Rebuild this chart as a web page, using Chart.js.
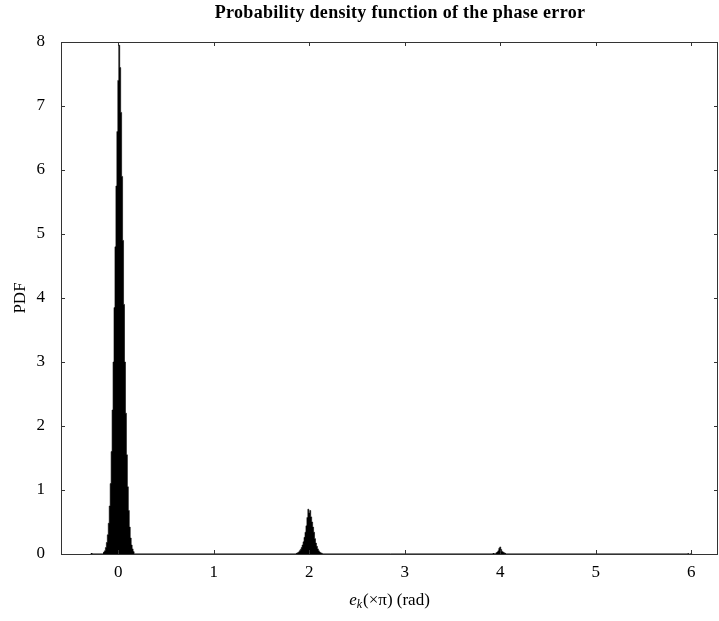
<!DOCTYPE html>
<html><head><meta charset="utf-8">
<script src="https://cdn.jsdelivr.net/npm/chart.js@4/dist/chart.umd.min.js"></script>
<style>html,body{margin:0;padding:0;background:#fff}</style>
</head><body>
<canvas id="c" width="719" height="621"></canvas>
<script>
const chartTitle = "Probability density function of the phase error";
const yAxisTitle = "PDF";
const xTickValues = [0, 1, 2, 3, 4, 5, 6];
const yTickValues = [0, 1, 2, 3, 4, 5, 6, 7, 8];

// histogram bins (bin centre in units of pi) and PDF heights
const peak0X = [-0.16,-0.15,-0.14,-0.13,-0.12,-0.11,-0.10,-0.09,-0.08,-0.07,-0.06,-0.05,-0.04,-0.03,-0.02,-0.01,0.00,0.01,0.02,0.03,0.04,0.05,0.06,0.07,0.08,0.09,0.10,0.11,0.12,0.13,0.14,0.15,0.16,0.17];
const peak0Y = [0.02,0.03,0.05,0.10,0.18,0.30,0.48,0.75,1.10,1.60,2.25,3.00,3.85,4.80,5.75,6.60,7.40,7.95,7.60,6.90,5.90,4.90,3.90,3.00,2.20,1.55,1.05,0.68,0.42,0.25,0.14,0.08,0.04,0.02];
const peak2X = [1.86,1.87,1.88,1.89,1.90,1.91,1.92,1.93,1.94,1.95,1.96,1.97,1.98,1.99,2.00,2.01,2.02,2.03,2.04,2.05,2.06,2.07,2.08,2.09,2.10,2.11,2.12,2.13,2.14];
const peak2Y = [0.01,0.01,0.02,0.03,0.05,0.07,0.10,0.14,0.19,0.26,0.34,0.44,0.57,0.70,0.64,0.68,0.58,0.50,0.42,0.34,0.24,0.17,0.12,0.08,0.05,0.03,0.02,0.01,0.01];
const peak4X = [3.95,3.96,3.97,3.98,3.99,4.00,4.01,4.02,4.03,4.04,4.05,4.06];
const peak4Y = [0.01,0.02,0.03,0.05,0.09,0.11,0.07,0.04,0.03,0.02,0.01,0.01];
// isolated small bins
const strayX = [-0.28, 3.93, 5.97, 6.00];
const strayY = [0.01, 0.01, 0.005, 0.01];
// near-zero tail of the histogram that shows as a thin line along the axis
const tailX = [-0.28, 5.98];
const tailY = [0, 0];

const toPts = (xs, ys) => xs.map((x, i) => ({x, y: ys[i]}));

const SERIF = "'Liberation Serif', 'DejaVu Serif', serif";
const FRAME = '#333';

const framePlugin = {
  id: 'frame',
  afterDatasetsDraw(chart) {
    const {ctx, chartArea: a, scales} = chart;
    ctx.save();
    ctx.strokeStyle = FRAME;
    ctx.lineWidth = 1;
    ctx.strokeRect(a.left + 0.5, a.top + 0.5, a.right - a.left - 1, a.bottom - a.top);
    const L = 4;
    ctx.beginPath();
    xTickValues.forEach(v => {
      const px = Math.round(scales.x.getPixelForValue(v)) + 0.5;
      ctx.moveTo(px, a.bottom); ctx.lineTo(px, a.bottom - L);
      ctx.moveTo(px, a.top); ctx.lineTo(px, a.top + L);
    });
    yTickValues.forEach(v => {
      const py = Math.round(scales.y.getPixelForValue(v)) + 0.5;
      ctx.moveTo(a.left, py); ctx.lineTo(a.left + L, py);
      ctx.moveTo(a.right, py); ctx.lineTo(a.right - L, py);
    });
    ctx.stroke();
    ctx.restore();
  },
  afterDraw(chart) {
    const {ctx, chartArea: a} = chart;
    ctx.save();
    ctx.fillStyle = '#000';
    ctx.font = "bold 18px " + SERIF;
    ctx.textAlign = 'center';
    ctx.textBaseline = 'middle';
    try { ctx.letterSpacing = '0.3px'; } catch (e) {}
    ctx.fillText(chartTitle, 400, 13);
    try { ctx.letterSpacing = '0px'; } catch (e) {}
    ctx.font = "17px " + SERIF;
    ctx.translate(21, (a.top + a.bottom) / 2);
    ctx.rotate(-Math.PI / 2);
    ctx.fillText(yAxisTitle, 0, 0);
    ctx.setTransform(1, 0, 0, 1, 0, 0);
    const fMain = "17px " + SERIF, fIt = "italic 17px " + SERIF, fSub = "italic 12px " + SERIF;
    const rest = "(\u00d7\u03c0) (rad)";
    ctx.textAlign = 'left';
    ctx.textBaseline = 'alphabetic';
    ctx.font = fIt; const we = ctx.measureText('e').width;
    ctx.font = fSub; const wk = ctx.measureText('k').width;
    ctx.font = fMain; const wr = ctx.measureText(rest).width;
    let x = (a.left + a.right) / 2 - (we + wk + 1 + wr) / 2;
    const base = 605;
    ctx.font = fIt; ctx.fillText('e', x, base); x += we;
    ctx.font = fSub; ctx.fillText('k', x, base + 3); x += wk + 1;
    ctx.font = fMain; ctx.fillText(rest, x, base);
    ctx.restore();
  }
};

const histLine = pts => ({
  type: 'line', data: pts, stepped: 'middle', fill: 'origin',
  backgroundColor: '#000', borderColor: '#000', borderWidth: 0.6,
  pointRadius: 0, order: 2
});

new Chart(document.getElementById('c'), {
  data: {
    datasets: [
      histLine(toPts(peak0X, peak0Y)),
      histLine(toPts(peak2X, peak2Y)),
      histLine(toPts(peak4X, peak4Y)),
      {type: 'bar', data: toPts(strayX, strayY), backgroundColor: '#000', borderWidth: 0,
       barThickness: 1, grouped: false, order: 2},
      {type: 'line', data: toPts(tailX, tailY), borderColor: '#000', borderWidth: 1,
       pointRadius: 0, clip: 3, order: 1}
    ]
  },
  options: {
    responsive: false,
    animation: false,
    devicePixelRatio: 1,
    layout: {padding: {top: 42, right: 1, left: 0, bottom: 0}},
    plugins: {legend: {display: false}, tooltip: {enabled: false}, title: {display: false}},
    scales: {
      x: {
        type: 'linear', min: -0.6, max: 6.28, offset: false,
        grid: {display: false}, border: {display: false},
        afterBuildTicks: s => { s.ticks = xTickValues.map(v => ({value: v})); },
        afterFit: s => { s.height = 67; },
        ticks: {color: '#000', padding: 0, maxRotation: 0, font: {family: SERIF, size: 17}}
      },
      y: {
        type: 'linear', min: 0, max: 8,
        grid: {display: false}, border: {display: false},
        afterBuildTicks: s => { s.ticks = yTickValues.map(v => ({value: v})); },
        afterFit: s => { s.width = 61; },
        ticks: {color: '#000', padding: 8, font: {family: SERIF, size: 17}}
      }
    }
  },
  plugins: [framePlugin]
});
</script>
</body></html>
